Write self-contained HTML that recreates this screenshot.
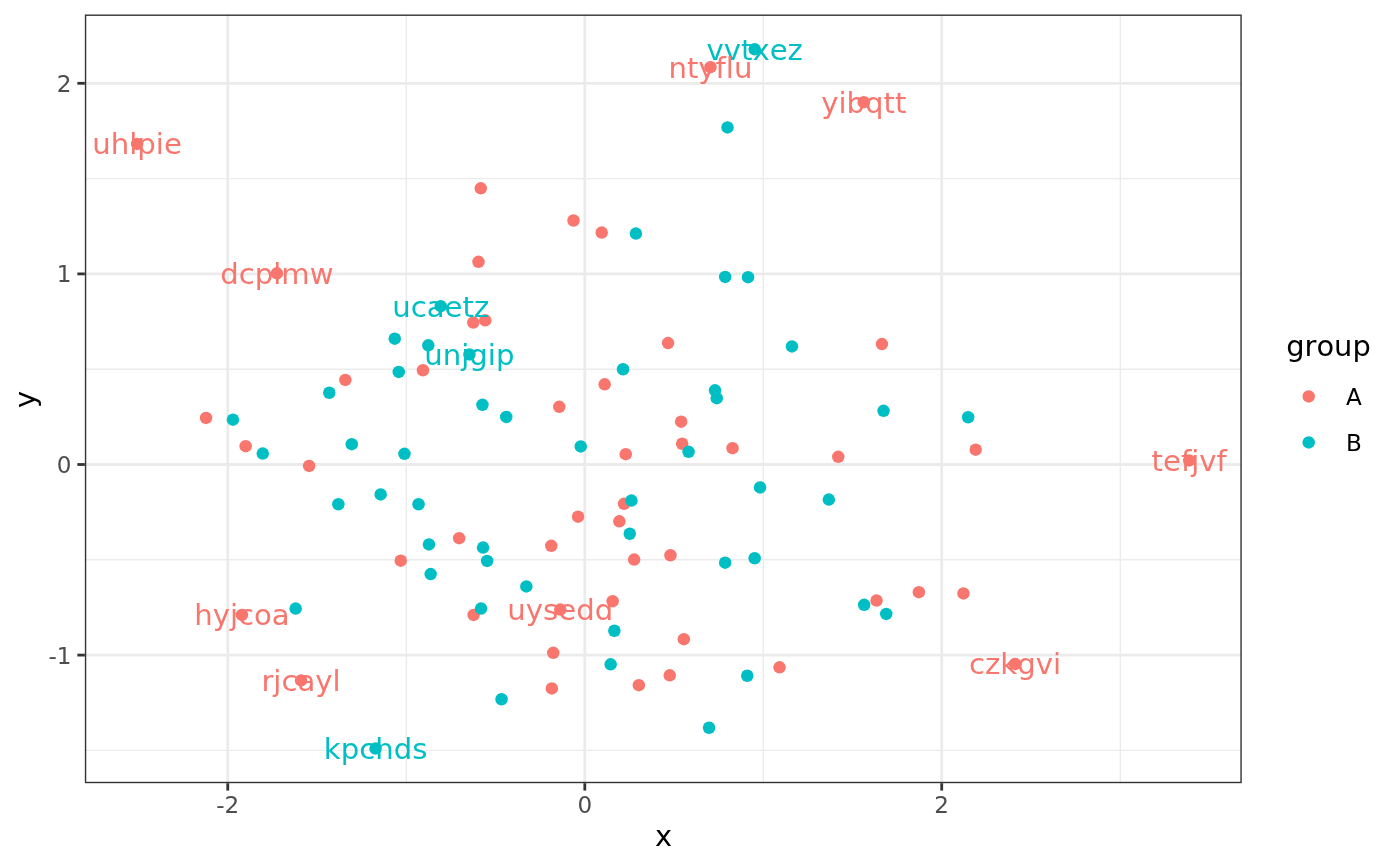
<!DOCTYPE html>
<html lang="en"><head><meta charset="utf-8"><title>scatter plot</title>
<style>html,body{margin:0;padding:0;background:#fff}body{width:1400px;height:866px;overflow:hidden}svg{display:block}text{font-family:"DejaVu Sans","Liberation Sans",sans-serif;font-kerning:none;font-variant-ligatures:none}</style></head><body>
<svg width="1400" height="866" viewBox="0 0 1400 866">
<rect width="1400" height="866" fill="#fff"/>
<g stroke="#EBEBEB" fill="none">
<line x1="84.85" x2="1241.75" y1="178.6" y2="178.6" stroke-width="1.4"/>
<line x1="84.85" x2="1241.75" y1="369.2" y2="369.2" stroke-width="1.4"/>
<line x1="84.85" x2="1241.75" y1="559.8" y2="559.8" stroke-width="1.4"/>
<line x1="84.85" x2="1241.75" y1="750.4" y2="750.4" stroke-width="1.4"/>
<line x1="406.3" x2="406.3" y1="14.5" y2="783.2" stroke-width="1.4"/>
<line x1="763.3" x2="763.3" y1="14.5" y2="783.2" stroke-width="1.4"/>
<line x1="1120.3" x2="1120.3" y1="14.5" y2="783.2" stroke-width="1.4"/>
<line x1="84.85" x2="1241.75" y1="83.3" y2="83.3" stroke-width="2.8"/>
<line x1="84.85" x2="1241.75" y1="273.9" y2="273.9" stroke-width="2.8"/>
<line x1="84.85" x2="1241.75" y1="464.5" y2="464.5" stroke-width="2.8"/>
<line x1="84.85" x2="1241.75" y1="655.1" y2="655.1" stroke-width="2.8"/>
<line x1="227.75" x2="227.75" y1="14.5" y2="783.2" stroke-width="2.8"/>
<line x1="584.8" x2="584.8" y1="14.5" y2="783.2" stroke-width="2.8"/>
<line x1="941.7" x2="941.7" y1="14.5" y2="783.2" stroke-width="2.8"/>
</g>
<g stroke="none">
<circle cx="137.1" cy="143.9" r="6.25" fill="#F8766D"/>
<circle cx="276.9" cy="273.3" r="6.25" fill="#F8766D"/>
<circle cx="754.7" cy="49.35" r="6.25" fill="#00BFC4"/>
<circle cx="710.45" cy="67.15" r="6.25" fill="#F8766D"/>
<circle cx="863.8" cy="102.15" r="6.25" fill="#F8766D"/>
<circle cx="727.5" cy="127.45" r="6.25" fill="#00BFC4"/>
<circle cx="480.8" cy="188.3" r="6.25" fill="#F8766D"/>
<circle cx="573.5" cy="220.5" r="6.25" fill="#F8766D"/>
<circle cx="601.7" cy="232.6" r="6.25" fill="#F8766D"/>
<circle cx="635.9" cy="233.6" r="6.25" fill="#00BFC4"/>
<circle cx="478.5" cy="261.8" r="6.25" fill="#F8766D"/>
<circle cx="725.2" cy="276.9" r="6.25" fill="#00BFC4"/>
<circle cx="748.05" cy="277.2" r="6.25" fill="#00BFC4"/>
<circle cx="440.75" cy="306.15" r="6.25" fill="#00BFC4"/>
<circle cx="394.75" cy="338.65" r="6.25" fill="#00BFC4"/>
<circle cx="428.3" cy="345.3" r="6.25" fill="#00BFC4"/>
<circle cx="398.75" cy="371.95" r="6.25" fill="#00BFC4"/>
<circle cx="422.95" cy="370.25" r="6.25" fill="#F8766D"/>
<circle cx="345.35" cy="379.95" r="6.25" fill="#F8766D"/>
<circle cx="329.25" cy="392.75" r="6.25" fill="#00BFC4"/>
<circle cx="206.05" cy="417.95" r="6.25" fill="#F8766D"/>
<circle cx="232.95" cy="419.65" r="6.25" fill="#00BFC4"/>
<circle cx="245.65" cy="446.15" r="6.25" fill="#F8766D"/>
<circle cx="262.75" cy="453.55" r="6.25" fill="#00BFC4"/>
<circle cx="351.75" cy="444.15" r="6.25" fill="#00BFC4"/>
<circle cx="404.45" cy="453.85" r="6.25" fill="#00BFC4"/>
<circle cx="309.15" cy="465.95" r="6.25" fill="#F8766D"/>
<circle cx="380.65" cy="494.45" r="6.25" fill="#00BFC4"/>
<circle cx="338.35" cy="504.25" r="6.25" fill="#00BFC4"/>
<circle cx="418.55" cy="504.25" r="6.25" fill="#00BFC4"/>
<circle cx="459.15" cy="538.15" r="6.25" fill="#F8766D"/>
<circle cx="428.95" cy="544.45" r="6.25" fill="#00BFC4"/>
<circle cx="400.75" cy="560.65" r="6.25" fill="#F8766D"/>
<circle cx="430.65" cy="574.05" r="6.25" fill="#00BFC4"/>
<circle cx="473.25" cy="322.55" r="6.25" fill="#F8766D"/>
<circle cx="485.25" cy="320.35" r="6.25" fill="#F8766D"/>
<circle cx="469.4" cy="354.4" r="6.25" fill="#00BFC4"/>
<circle cx="668.05" cy="343.05" r="6.25" fill="#F8766D"/>
<circle cx="791.95" cy="346.45" r="6.25" fill="#00BFC4"/>
<circle cx="881.95" cy="344.05" r="6.25" fill="#F8766D"/>
<circle cx="623.05" cy="369.25" r="6.25" fill="#00BFC4"/>
<circle cx="604.65" cy="384.35" r="6.25" fill="#F8766D"/>
<circle cx="715.05" cy="390.35" r="6.25" fill="#00BFC4"/>
<circle cx="716.75" cy="398.15" r="6.25" fill="#00BFC4"/>
<circle cx="482.45" cy="404.85" r="6.25" fill="#00BFC4"/>
<circle cx="506.25" cy="416.95" r="6.25" fill="#00BFC4"/>
<circle cx="559.25" cy="406.85" r="6.25" fill="#F8766D"/>
<circle cx="681.15" cy="421.65" r="6.25" fill="#F8766D"/>
<circle cx="883.55" cy="410.85" r="6.25" fill="#00BFC4"/>
<circle cx="580.75" cy="446.45" r="6.25" fill="#00BFC4"/>
<circle cx="625.75" cy="454.15" r="6.25" fill="#F8766D"/>
<circle cx="682.15" cy="443.75" r="6.25" fill="#F8766D"/>
<circle cx="688.55" cy="451.85" r="6.25" fill="#00BFC4"/>
<circle cx="732.55" cy="448.15" r="6.25" fill="#F8766D"/>
<circle cx="838.25" cy="456.85" r="6.25" fill="#F8766D"/>
<circle cx="760.05" cy="487.45" r="6.25" fill="#00BFC4"/>
<circle cx="828.85" cy="499.55" r="6.25" fill="#00BFC4"/>
<circle cx="624.05" cy="503.85" r="6.25" fill="#F8766D"/>
<circle cx="631.45" cy="500.55" r="6.25" fill="#00BFC4"/>
<circle cx="578.05" cy="516.65" r="6.25" fill="#F8766D"/>
<circle cx="619.35" cy="521.35" r="6.25" fill="#F8766D"/>
<circle cx="629.75" cy="533.75" r="6.25" fill="#00BFC4"/>
<circle cx="483.05" cy="547.55" r="6.25" fill="#00BFC4"/>
<circle cx="551.25" cy="545.85" r="6.25" fill="#F8766D"/>
<circle cx="487.15" cy="560.95" r="6.25" fill="#00BFC4"/>
<circle cx="634.15" cy="559.55" r="6.25" fill="#F8766D"/>
<circle cx="670.45" cy="555.25" r="6.25" fill="#F8766D"/>
<circle cx="725.15" cy="562.65" r="6.25" fill="#00BFC4"/>
<circle cx="754.65" cy="558.25" r="6.25" fill="#00BFC4"/>
<circle cx="968.15" cy="417.25" r="6.25" fill="#00BFC4"/>
<circle cx="975.7" cy="449.7" r="6.25" fill="#F8766D"/>
<circle cx="1189.2" cy="460.4" r="6.25" fill="#F8766D"/>
<circle cx="295.65" cy="608.55" r="6.25" fill="#00BFC4"/>
<circle cx="241.95" cy="614.95" r="6.25" fill="#F8766D"/>
<circle cx="301.05" cy="680.45" r="6.25" fill="#F8766D"/>
<circle cx="375.55" cy="748.55" r="6.25" fill="#00BFC4"/>
<circle cx="526.35" cy="586.45" r="6.25" fill="#00BFC4"/>
<circle cx="473.65" cy="614.95" r="6.25" fill="#F8766D"/>
<circle cx="481.05" cy="608.55" r="6.25" fill="#00BFC4"/>
<circle cx="612.65" cy="601.15" r="6.25" fill="#F8766D"/>
<circle cx="560.25" cy="609.55" r="6.25" fill="#F8766D"/>
<circle cx="614.35" cy="630.75" r="6.25" fill="#00BFC4"/>
<circle cx="683.85" cy="639.15" r="6.25" fill="#F8766D"/>
<circle cx="553.25" cy="652.85" r="6.25" fill="#F8766D"/>
<circle cx="610.65" cy="664.35" r="6.25" fill="#00BFC4"/>
<circle cx="669.75" cy="675.35" r="6.25" fill="#F8766D"/>
<circle cx="638.85" cy="685.15" r="6.25" fill="#F8766D"/>
<circle cx="551.85" cy="688.45" r="6.25" fill="#F8766D"/>
<circle cx="501.55" cy="699.25" r="6.25" fill="#00BFC4"/>
<circle cx="747.25" cy="675.75" r="6.25" fill="#00BFC4"/>
<circle cx="779.55" cy="667.35" r="6.25" fill="#F8766D"/>
<circle cx="709.05" cy="727.75" r="6.25" fill="#00BFC4"/>
<circle cx="864.15" cy="604.85" r="6.25" fill="#00BFC4"/>
<circle cx="876.55" cy="600.55" r="6.25" fill="#F8766D"/>
<circle cx="886.25" cy="613.95" r="6.25" fill="#00BFC4"/>
<circle cx="918.85" cy="592.15" r="6.25" fill="#F8766D"/>
<circle cx="963.45" cy="593.45" r="6.25" fill="#F8766D"/>
<circle cx="1015.05" cy="663.95" r="6.25" fill="#F8766D"/>
</g>
<g font-size="29.15" text-anchor="middle">
<text x="137.10" y="153.90" fill="#F8766D">uhlpie</text>
<text x="276.90" y="283.80" fill="#F8766D">dcplmw</text>
<text x="754.70" y="59.65" fill="#00BFC4">vvtxez</text>
<text x="710.45" y="77.65" fill="#F8766D">ntyflu</text>
<text x="863.80" y="112.65" fill="#F8766D">yibqtt</text>
<text x="440.75" y="316.65" fill="#00BFC4">ucaetz</text>
<text x="469.40" y="364.90" fill="#00BFC4">unjgip</text>
<text x="1189.20" y="470.90" fill="#F8766D">tefjvf</text>
<text x="241.95" y="625.45" fill="#F8766D">hyjcoa</text>
<text x="301.05" y="690.95" fill="#F8766D">rjcayl</text>
<text x="375.55" y="759.05" fill="#00BFC4">kpchds</text>
<text x="560.25" y="620.05" fill="#F8766D">uysedd</text>
<text x="1015.05" y="674.45" fill="#F8766D">czkgvi</text>
</g>
<rect x="85.55" y="15.2" width="1155.5" height="767.3000000000001" fill="none" stroke="#333333" stroke-width="1.4"/>
<g stroke="#333333" stroke-width="2.8">
<line x1="77.35" x2="84.85" y1="83.3" y2="83.3"/>
<line x1="77.35" x2="84.85" y1="273.9" y2="273.9"/>
<line x1="77.35" x2="84.85" y1="464.5" y2="464.5"/>
<line x1="77.35" x2="84.85" y1="655.1" y2="655.1"/>
<line x1="227.75" x2="227.75" y1="783.2" y2="790.60"/>
<line x1="584.8" x2="584.8" y1="783.2" y2="790.60"/>
<line x1="941.7" x2="941.7" y1="783.2" y2="790.60"/>
</g>
<g font-size="23.1" fill="#4D4D4D">
<text x="71.45" y="91.9" text-anchor="end">2</text>
<text x="71.45" y="282.0" text-anchor="end">1</text>
<text x="71.45" y="473.4" text-anchor="end">0</text>
<text x="71.45" y="664.0" text-anchor="end">-1</text>
<text x="227.75" y="812.8" text-anchor="middle">-2</text>
<text x="584.8" y="812.8" text-anchor="middle">0</text>
<text x="941.7" y="812.8" text-anchor="middle">2</text>
</g>
<g font-size="28.9" fill="#000">
<text x="663.5" y="846.3" text-anchor="middle">x</text>
<text transform="translate(35.4,399.4) rotate(-90)" text-anchor="middle">y</text>
<text x="1286.2" y="356">group</text>
</g>
<circle cx="1308.7" cy="396.4" r="6.25" fill="#F8766D"/>
<circle cx="1308.7" cy="442.4" r="6.25" fill="#00BFC4"/>
<g font-size="23.1" fill="#000"><text x="1346" y="405.2">A</text><text x="1346" y="451.2">B</text></g>
</svg></body></html>
